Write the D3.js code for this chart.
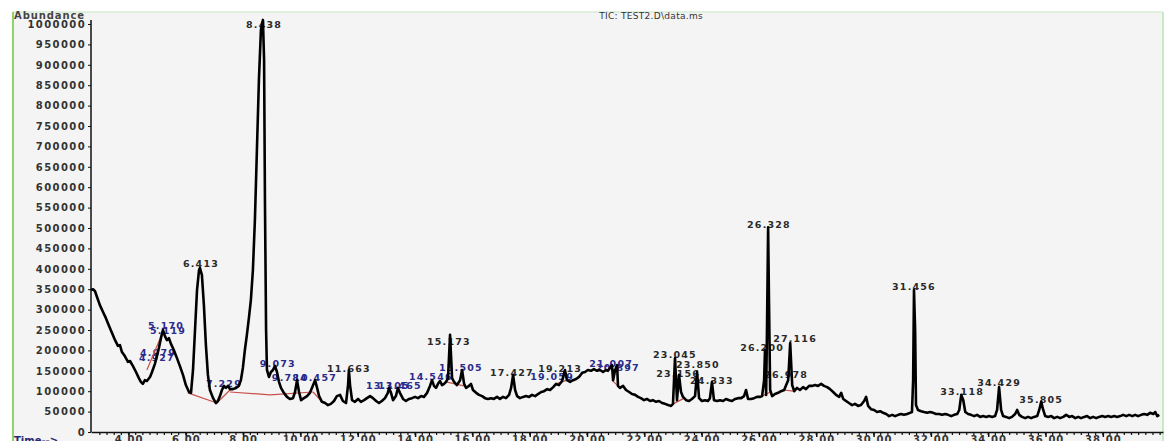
<!DOCTYPE html>
<html>
<head>
<meta charset="utf-8">
<script src="https://cdn.jsdelivr.net/npm/d3@7"></script>
<style>
  body { margin: 0; background: #ffffff; }
  svg text { font-family: "DejaVu Sans", sans-serif; }
</style>
</head>
<body>
<div id="chart"></div>
<script>
// TIC trace: [retention time (min), abundance]
const ticTrace = [
  [2.69,348000],[2.76,350000],[2.83,345000],[2.90,331000],[3.00,311000],[3.11,294000],[3.21,279000],[3.32,260000],
  [3.42,243000],[3.53,225000],[3.63,211000],[3.70,213000],[3.77,196000],[3.87,186000],[3.98,172000],[4.05,174000],
  [4.15,162000],[4.26,147000],[4.36,132000],[4.43,123000],[4.50,118000],[4.57,127000],[4.64,125000],[4.75,135000],
  [4.82,147000],[4.92,167000],[4.99,186000],[5.06,206000],[5.13,230000],[5.20,250000],[5.27,235000],[5.34,225000],
  [5.41,230000],[5.48,216000],[5.58,201000],[5.69,181000],[5.79,162000],[5.90,140000],[6.00,115000],[6.11,98000],
  [6.18,96000],[6.25,152000],[6.32,250000],[6.39,348000],[6.46,397000],[6.49,402000],[6.56,385000],[6.63,311000],
  [6.70,213000],[6.77,140000],[6.84,103000],[6.95,83000],[7.05,71000],[7.12,76000],[7.19,88000],[7.26,103000],
  [7.33,113000],[7.40,108000],[7.47,113000],[7.54,105000],[7.64,105000],[7.75,108000],[7.85,113000],[7.92,127000],
  [7.99,157000],[8.06,201000],[8.13,238000],[8.20,279000],[8.27,324000],[8.34,397000],[8.41,520000],[8.48,691000],
  [8.55,863000],[8.62,985000],[8.69,1010000],[8.73,912000],[8.76,569000],[8.80,250000],[8.83,152000],[8.90,135000],
  [8.97,147000],[9.04,152000],[9.11,162000],[9.18,147000],[9.25,123000],[9.32,108000],[9.42,96000],[9.53,86000],
  [9.63,81000],[9.74,83000],[9.81,98000],[9.88,127000],[9.95,98000],[10.02,78000],[10.12,83000],[10.23,88000],
  [10.33,96000],[10.40,108000],[10.51,127000],[10.58,108000],[10.65,88000],[10.75,74000],[10.86,71000],[10.96,66000],
  [11.06,69000],[11.17,76000],[11.27,88000],[11.38,91000],[11.48,76000],[11.59,71000],[11.66,115000],[11.69,152000],
  [11.73,115000],[11.80,78000],[11.90,74000],[12.01,81000],[12.11,74000],[12.22,78000],[12.32,83000],[12.43,88000],
  [12.53,83000],[12.64,76000],[12.74,71000],[12.84,76000],[12.95,83000],[13.05,96000],[13.09,108000],[13.16,96000],
  [13.23,78000],[13.33,88000],[13.40,108000],[13.47,96000],[13.58,81000],[13.68,76000],[13.79,81000],[13.89,83000],
  [14.00,86000],[14.10,83000],[14.21,88000],[14.31,86000],[14.42,96000],[14.52,113000],[14.59,127000],[14.66,113000],
  [14.73,108000],[14.80,118000],[14.87,125000],[14.94,115000],[15.01,118000],[15.08,123000],[15.15,132000],[15.22,238000],
  [15.29,132000],[15.36,123000],[15.46,115000],[15.57,127000],[15.64,152000],[15.71,118000],[15.78,108000],[15.88,113000],
  [15.95,118000],[16.02,103000],[16.13,96000],[16.23,91000],[16.34,88000],[16.44,83000],[16.54,81000],[16.65,83000],
  [16.75,81000],[16.86,86000],[16.96,81000],[17.07,86000],[17.17,83000],[17.28,91000],[17.35,108000],[17.42,140000],
  [17.49,103000],[17.56,88000],[17.66,83000],[17.77,86000],[17.87,88000],[17.98,86000],[18.08,91000],[18.19,88000],
  [18.29,93000],[18.40,98000],[18.50,100000],[18.61,105000],[18.71,103000],[18.82,110000],[18.92,118000],[19.02,115000],
  [19.13,125000],[19.23,152000],[19.30,127000],[19.41,123000],[19.51,127000],[19.62,130000],[19.72,135000],[19.83,145000],
  [19.93,147000],[20.03,152000],[20.14,150000],[20.24,154000],[20.35,150000],[20.45,152000],[20.56,147000],[20.66,152000],
  [20.73,150000],[20.80,157000],[20.87,164000],[20.91,127000],[20.98,152000],[21.05,164000],[21.08,113000],[21.15,108000],
  [21.26,113000],[21.36,103000],[21.47,98000],[21.57,93000],[21.68,91000],[21.78,86000],[21.88,83000],[21.99,78000],
  [22.09,81000],[22.20,76000],[22.30,78000],[22.41,74000],[22.51,76000],[22.62,71000],[22.72,69000],[22.83,66000],
  [22.93,64000],[23.00,69000],[23.07,181000],[23.14,78000],[23.21,140000],[23.28,98000],[23.35,86000],[23.46,78000],
  [23.56,76000],[23.66,81000],[23.77,88000],[23.84,147000],[23.91,83000],[24.01,76000],[24.12,78000],[24.22,76000],
  [24.29,83000],[24.36,123000],[24.43,78000],[24.54,76000],[24.64,78000],[24.75,76000],[24.85,81000],[24.96,78000],
  [25.06,76000],[25.17,81000],[25.27,83000],[25.38,83000],[25.48,88000],[25.55,103000],[25.62,81000],[25.72,81000],
  [25.83,83000],[25.93,86000],[26.04,86000],[26.11,88000],[26.18,127000],[26.21,201000],[26.25,91000],[26.28,250000],
  [26.32,502000],[26.35,324000],[26.39,103000],[26.46,88000],[26.56,93000],[26.67,96000],[26.77,100000],[26.88,103000],
  [26.95,115000],[27.02,127000],[27.09,218000],[27.16,115000],[27.23,100000],[27.33,108000],[27.43,103000],[27.54,110000],
  [27.64,105000],[27.75,113000],[27.85,113000],[27.96,115000],[28.06,113000],[28.17,118000],[28.27,113000],[28.38,110000],
  [28.48,105000],[28.59,98000],[28.69,91000],[28.80,86000],[28.87,96000],[28.94,81000],[29.04,76000],[29.14,71000],
  [29.25,66000],[29.35,69000],[29.46,64000],[29.56,66000],[29.67,76000],[29.74,86000],[29.81,64000],[29.91,56000],
  [30.02,54000],[30.12,49000],[30.23,51000],[30.33,47000],[30.44,44000],[30.54,39000],[30.65,42000],[30.75,39000],
  [30.86,42000],[30.96,44000],[31.06,42000],[31.17,44000],[31.27,47000],[31.34,49000],[31.38,127000],[31.41,348000],
  [31.45,250000],[31.48,66000],[31.55,54000],[31.66,51000],[31.76,49000],[31.87,47000],[31.97,49000],[32.08,47000],
  [32.18,44000],[32.29,44000],[32.39,42000],[32.50,44000],[32.60,42000],[32.71,39000],[32.81,42000],[32.92,44000],
  [32.99,54000],[33.06,91000],[33.13,78000],[33.20,49000],[33.30,44000],[33.40,42000],[33.51,39000],[33.61,42000],
  [33.72,37000],[33.82,39000],[33.93,37000],[34.03,39000],[34.14,37000],[34.24,39000],[34.31,54000],[34.38,110000],
  [34.45,54000],[34.52,39000],[34.62,37000],[34.73,34000],[34.83,37000],[34.94,44000],[35.01,54000],[35.08,42000],
  [35.18,37000],[35.29,34000],[35.39,37000],[35.50,34000],[35.60,37000],[35.71,39000],[35.78,54000],[35.85,74000],
  [35.92,54000],[35.99,39000],[36.09,37000],[36.20,39000],[36.30,34000],[36.41,37000],[36.51,34000],[36.62,37000],
  [36.72,42000],[36.83,37000],[36.93,39000],[37.04,34000],[37.14,37000],[37.24,34000],[37.35,37000],[37.45,39000],
  [37.56,34000],[37.66,37000],[37.77,34000],[37.87,37000],[37.98,39000],[38.08,37000],[38.19,39000],[38.29,37000],
  [38.40,39000],[38.50,37000],[38.61,39000],[38.71,42000],[38.82,39000],[38.92,42000],[39.03,39000],[39.13,42000],
  [39.23,39000],[39.34,42000],[39.44,44000],[39.55,42000],[39.65,47000],[39.76,44000],[39.83,49000],[39.90,39000],
  [39.97,42000]
];

// integration baselines drawn in red
const baselines = [
  [[4.64,152000],[5.20,245000]],
  [[6.07,96000],[7.08,71000]],
  [[7.08,71000],[7.54,103000]],
  [[7.54,98000],[8.94,91000]],
  [[8.94,91000],[10.44,98000]],
  [[10.44,98000],[10.75,74000]],
  [[15.08,123000],[15.70,113000]],
  [[18.92,118000],[19.30,127000]],
  [[20.87,127000],[21.15,108000]],
  [[23.00,69000],[23.40,83000]],
  [[26.10,88000],[26.40,98000]],
  [[26.88,103000],[27.20,100000]]
];

// peak labels: text, time, abundance (baseline), blue or not
const peakLabels = [
  ["8.438", 8.73, 990000, false],
  ["6.413", 6.53, 404000, false],
  ["5.170", 5.31, 252000, true],
  ["5.119", 5.38, 240000, true],
  ["4.979", 5.03, 186000, true],
  ["4.927", 4.99, 174000, true],
  ["7.229", 7.33, 110000, true],
  ["9.073", 9.21, 159000, true],
  ["9.784", 9.63, 125000, true],
  ["10.457", 10.51, 125000, true],
  ["11.663", 11.69, 147000, false],
  ["13.105", 13.05, 105000, true],
  ["13.465", 13.47, 105000, true],
  ["14.546", 14.55, 127000, true],
  ["15.173", 15.18, 213000, false],
  ["15.505", 15.60, 150000, true],
  ["17.427", 17.38, 137000, false],
  ["19.059", 18.78, 127000, true],
  ["19.213", 19.06, 147000, false],
  ["21.007", 20.84, 159000, true],
  ["20.897", 21.08, 150000, true],
  ["23.045", 23.07, 181000, false],
  ["23.156", 23.18, 135000, false],
  ["23.850", 23.87, 157000, false],
  ["24.333", 24.36, 118000, false],
  ["26.200", 26.11, 199000, false],
  ["26.328", 26.35, 500000, false],
  ["27.116", 27.26, 221000, false],
  ["26.978", 26.95, 132000, false],
  ["31.456", 31.41, 348000, false],
  ["33.118", 33.09, 91000, false],
  ["34.429", 34.38, 113000, false],
  ["35.805", 35.85, 71000, false]
];

const xTickValues = d3.range(4, 39, 2);
const yTickValues = d3.range(0, 1000001, 50000);

const W = 1166, H = 441;
const svg = d3.select("#chart").append("svg")
    .attr("width", W)
    .attr("height", H);

// background + frame
svg.append("rect").attr("x", 0).attr("y", 0).attr("width", W).attr("height", H).attr("fill", "#ffffff");
svg.append("rect").attr("x", 13).attr("y", 12).attr("width", 1150).attr("height", 440)
    .attr("fill", "#f4f4f4");
svg.append("line").attr("x1", 13).attr("x2", 1163).attr("y1", 12).attr("y2", 12)
    .attr("stroke", "#d6ecd6").attr("stroke-width", 1.5);
svg.append("line").attr("x1", 13).attr("x2", 13).attr("y1", 12).attr("y2", H)
    .attr("stroke", "#8fd468").attr("stroke-width", 2);
svg.append("line").attr("x1", 1163).attr("x2", 1163).attr("y1", 12).attr("y2", H)
    .attr("stroke", "#b8e4b8").attr("stroke-width", 1.5);

const x = d3.scaleLinear().domain([2.69, 40.1]).range([91, 1163]);
const y = d3.scaleLinear().domain([0, 1000000]).range([432, 24]);

// x axis with minor ticks
const minor = svg.append("g").attr("transform", "translate(0,432)");
minor.selectAll("line")
    .data(d3.range(3, 40.01, 0.25))
    .enter().append("line")
    .attr("x1", d => x(d)).attr("x2", d => x(d))
    .attr("y1", 0).attr("y2", 3)
    .attr("stroke", "#111").attr("stroke-width", 1.2);

const xAxis = svg.append("g")
    .attr("transform", "translate(0,432)")
    .call(d3.axisBottom(x).tickValues(xTickValues).tickSize(5).tickSizeOuter(0).tickFormat(d3.format(".2f")));
xAxis.select(".domain").attr("stroke", "#111").attr("stroke-width", 1.5);
xAxis.selectAll(".tick line").attr("stroke", "#111").attr("stroke-width", 1.5);
xAxis.selectAll(".tick text")
    .attr("y", 4)
    .attr("dy", "0.71em")
    .style("font-size", "10px")
    .style("font-weight", "bold")
    .style("letter-spacing", "1px")
    .attr("fill", "#333");

const yAxis = svg.append("g")
    .attr("transform", "translate(91,0)")
    .call(d3.axisLeft(y).tickValues(yTickValues).tickSize(3).tickSizeOuter(0).tickFormat(d3.format("d")));
yAxis.select(".domain").attr("stroke", "#111").attr("stroke-width", 1.5)
    .attr("d", "M0,432V20");
yAxis.selectAll(".tick line").attr("stroke", "#111");
yAxis.selectAll(".tick text")
    .attr("x", -5)
    .style("font-size", "10px")
    .style("font-weight", "bold")
    .style("letter-spacing", "1.4px")
    .attr("fill", "#333");

svg.append("text")
    .attr("x", 14).attr("y", 19)
    .style("font-size", "10px").style("font-weight", "bold").style("letter-spacing", "0.9px")
    .attr("fill", "#444")
    .text("Abundance");

svg.append("text")
    .attr("x", 14).attr("y", 444)
    .style("font-size", "10px").style("font-weight", "bold")
    .attr("fill", "#2a2a70")
    .text("Time-->");

svg.append("text")
    .attr("x", 703).attr("y", 19)
    .attr("text-anchor", "end")
    .style("font-size", "9px").style("letter-spacing", "0.3px")
    .attr("fill", "#333")
    .text("TIC: TEST2.D\\data.ms");

// peak labels (under the trace)
svg.append("g").selectAll("text")
    .data(peakLabels)
    .enter().append("text")
    .attr("x", d => x(d[1]))
    .attr("y", d => y(d[2]))
    .attr("text-anchor", "middle")
    .style("font-size", "9.5px")
    .style("font-weight", "bold")
    .style("letter-spacing", "1.2px")
    .attr("fill", d => d[3] ? "#2b2b8c" : "#2a2a2a")
    .text(d => d[0]);

// red integration baselines
const line = d3.line().x(d => x(d[0])).y(d => y(d[1]));
svg.append("g").selectAll("path")
    .data(baselines)
    .enter().append("path")
    .attr("d", line)
    .attr("fill", "none")
    .attr("stroke", "#c8504a")
    .attr("stroke-width", 1.2);

// the TIC trace
svg.append("path")
    .datum(ticTrace)
    .attr("d", line)
    .attr("fill", "none")
    .attr("stroke", "#000")
    .attr("stroke-width", 2.6)
    .attr("stroke-linejoin", "round");
</script>
</body>
</html>
